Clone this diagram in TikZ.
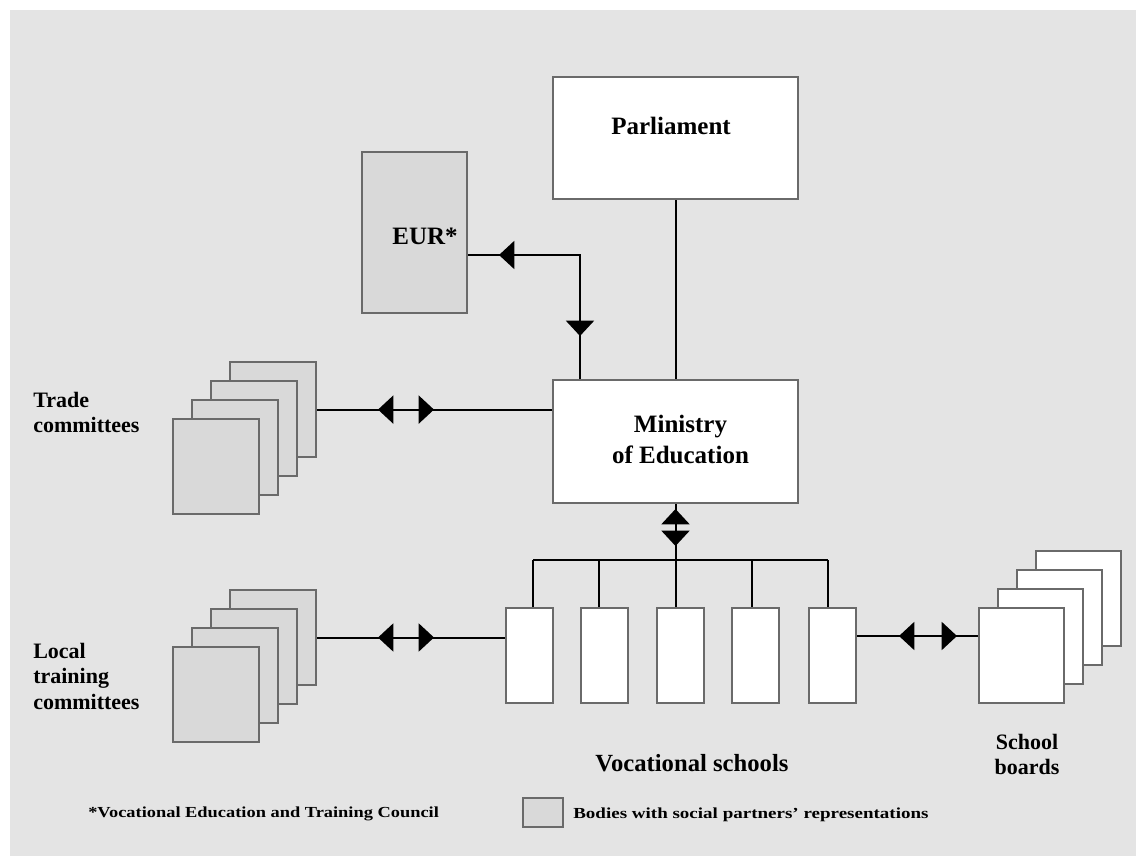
\documentclass[tikz,border=0pt]{standalone}
\usepackage{fontspec}
\usepackage{graphicx}
\setmainfont{Liberation Serif}
\usetikzlibrary{arrows.meta,decorations.markings,calc}

\definecolor{paper}{HTML}{E4E4E4}
\definecolor{panel}{HTML}{D9D9D9}
\definecolor{edge}{HTML}{6A6A6A}

\tikzset{
  bigtri/.tip={Triangle[length=11.5pt,width=21pt]},
  wbox/.style={draw=edge,line width=1.5pt,fill=white,inner sep=0pt},
  gbox/.style={wbox,fill=panel},
  dim/.style 2 args={minimum width=#1*0.75pt,minimum height=#2*0.75pt},
  link/.style={line width=1.5pt,draw=black},
  twoway/.style 2 args={postaction={decorate,decoration={markings,
      mark=at position #1 with {\arrowreversed{bigtri}},
      mark=at position #2 with {\arrow{bigtri}}}}},
  bigtext/.style={font=\bfseries\fontsize{18.75}{23.25}\selectfont,inner sep=0pt,align=center},
  sidetext/.style={font=\bfseries\fontsize{16.5}{19}\selectfont,inner sep=0pt,align=left},
  foot/.style={font=\bfseries\fontsize{11.5}{13}\selectfont,inner sep=0pt},
}

\begin{document}
\begin{tikzpicture}[x=0.75pt,y=-0.75pt]
% page and textured panel
\fill[white] (0,0) rectangle (1136,856);
\fill[paper] (10,10) rectangle (1136,856);
\path[use as bounding box] (0,0) rectangle (1136,856);

% central bodies
\node[wbox,dim={245}{122}] (parl) at (675.5,138) {};
\node[bigtext] (parltext) at (671,126) {Parliament};

\node[wbox,dim={245}{123}] (min) at (675.5,441.5) {};
\node[bigtext] (mintext) at (680.5,439) {Ministry\\of Education};

\node[gbox,dim={105}{161}] (eur) at (414.5,232.5) {};
\node[bigtext] (eurtext) at (425,236) {EUR*};

% vocational schools
\foreach \i/\x in {1/529,2/604.5,3/680,4/755.5,5/832.5}
  \node[wbox,dim={47}{95}] (s\i) at (\x,655.5) {};

% stacked committees and boards (back to front)
\foreach \k in {4,3,2,1}
  \node[gbox,dim={86}{95}] (tc\k) at ({216+19*(\k-1)},{466-18.8*(\k-1)}) {};
\foreach \k in {4,3,2,1}
  \node[gbox,dim={86}{95}] (lc\k) at ({216+19*(\k-1)},{694.5-19*(\k-1)}) {};
\foreach \k in {4,3,2,1}
  \node[wbox,dim={85}{95}] (sb\k) at ({1021.5+19*(\k-1)},{655.5-19*(\k-1)}) {};

% connectors
\draw[link] (parl.south) -- (min.north);

\coordinate (mtap) at ($(min.north west)+(28,0)$);
\coordinate (etap) at ($(eur.north east)+(0,104)$);
\draw[link,twoway={32.25pt}{153.75pt}] (mtap) |- (etap);

\draw[link,twoway={45.75pt}{87.75pt}] (tc4.east) -- (tc4.east -| min.west);
\draw[link,twoway={45.75pt}{87.75pt}] (lc4.east) -- (lc4.east -| s1.west);

\coordinate (bl) at ($(s5.north east)+(0,29)$);
\draw[link,twoway={31.5pt}{75pt}] (bl) -- (bl -| sb1.west);

\coordinate (hub) at ($(min.south)+(0,57)$);
\draw[link,twoway={3.75pt}{31.5pt}] (min.south) -- (hub);
\coordinate (d1) at (533,560);
\coordinate (d2) at (599,560);
\coordinate (d3) at (hub);
\coordinate (d4) at (752,560);
\coordinate (d5) at (828,560);
\draw[link] (d1) -- (d5);
\foreach \i in {1,...,5}
  \draw[link] (d\i) -- (d\i |- s\i.north);

% labels
\node[sidetext,anchor=north west] (tclab) at (33,392) {Trade\\committees};
\node[sidetext,anchor=north west] (lclab) at (33,643) {Local\\training\\committees};
\node[bigtext,font=\bfseries\fontsize{18.5}{21}\selectfont] (vslab) at (692,763) {Vocational schools};
\node[sidetext,align=center] (sblab) at (1027,754.5) {School\\boards};

% footnote and key
\node[foot,anchor=west] (note) at (88,814) {\scalebox{1.2}[1]{*Vocational Education and Training Council}};
\node[gbox,dim={40}{29}] (key) at (543,812.5) {};
\node[foot,anchor=west] (keytext) at (573,815) {\scalebox{1.24}[1]{Bodies with social partners' representations}};
\end{tikzpicture}
\end{document}
